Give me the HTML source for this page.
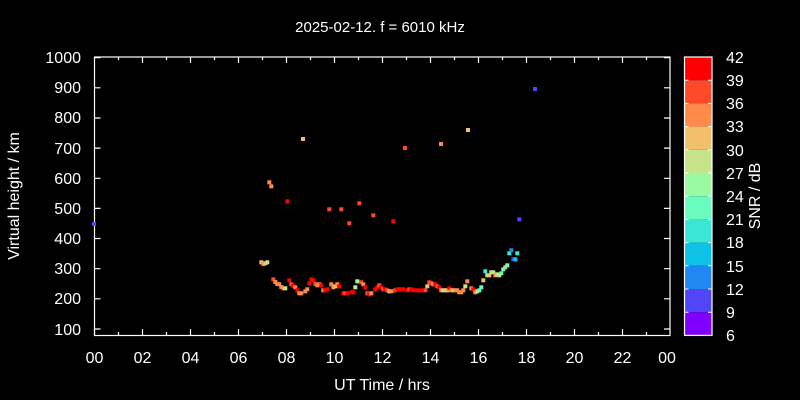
<!DOCTYPE html><html><head><meta charset="utf-8"><style>
body{margin:0;background:#000}
svg{display:block}
text{font-family:"Liberation Sans",sans-serif;fill:#fff}
</style></head><body>
<svg width="800" height="400" viewBox="0 0 800 400">
<rect width="800" height="400" fill="#000"/>
<text x="380" y="32" font-size="15" text-anchor="middle">2025-02-12. f = 6010 kHz</text>
<g stroke="#fff" stroke-width="1.2" fill="none">
<rect x="94.5" y="57" width="575.5" height="278.5"/>
<path d="M94.5 57.7h6M94.5 87.8h6M94.5 118h6M94.5 148.1h6M94.5 178.3h6M94.5 208.4h6M94.5 238.5h6M94.5 268.7h6M94.5 298.8h6M94.5 329h6
M670 57.7h-6M670 87.8h-6M670 118h-6M670 148.1h-6M670 178.3h-6M670 208.4h-6M670 238.5h-6M670 268.7h-6M670 298.8h-6M670 329h-6"/>
</g>
<g stroke="#fff" stroke-width="1.2">
<line x1="94.5" y1="335.5" x2="94.5" y2="329"/><line x1="118.5" y1="335.5" x2="118.5" y2="332"/><line x1="142.5" y1="335.5" x2="142.5" y2="329"/><line x1="166.5" y1="335.5" x2="166.5" y2="332"/><line x1="190.5" y1="335.5" x2="190.5" y2="329"/><line x1="214.5" y1="335.5" x2="214.5" y2="332"/><line x1="238.5" y1="335.5" x2="238.5" y2="329"/><line x1="262.5" y1="335.5" x2="262.5" y2="332"/><line x1="286.5" y1="335.5" x2="286.5" y2="329"/><line x1="310.5" y1="335.5" x2="310.5" y2="332"/><line x1="334.5" y1="335.5" x2="334.5" y2="329"/><line x1="358.5" y1="335.5" x2="358.5" y2="332"/><line x1="382.5" y1="335.5" x2="382.5" y2="329"/><line x1="406.5" y1="335.5" x2="406.5" y2="332"/><line x1="430.5" y1="335.5" x2="430.5" y2="329"/><line x1="454.5" y1="335.5" x2="454.5" y2="332"/><line x1="478.5" y1="335.5" x2="478.5" y2="329"/><line x1="502.5" y1="335.5" x2="502.5" y2="332"/><line x1="526.5" y1="335.5" x2="526.5" y2="329"/><line x1="550.5" y1="335.5" x2="550.5" y2="332"/><line x1="574.5" y1="335.5" x2="574.5" y2="329"/><line x1="598.5" y1="335.5" x2="598.5" y2="332"/><line x1="622.5" y1="335.5" x2="622.5" y2="329"/><line x1="646.5" y1="335.5" x2="646.5" y2="332"/>
<line x1="118.5" y1="57" x2="118.5" y2="60"/><line x1="142.5" y1="57" x2="142.5" y2="63"/><line x1="166.5" y1="57" x2="166.5" y2="60"/><line x1="190.5" y1="57" x2="190.5" y2="63"/><line x1="214.5" y1="57" x2="214.5" y2="60"/><line x1="238.5" y1="57" x2="238.5" y2="63"/><line x1="262.5" y1="57" x2="262.5" y2="60"/><line x1="286.5" y1="57" x2="286.5" y2="63"/><line x1="310.5" y1="57" x2="310.5" y2="60"/><line x1="334.5" y1="57" x2="334.5" y2="63"/><line x1="358.5" y1="57" x2="358.5" y2="60"/><line x1="382.5" y1="57" x2="382.5" y2="63"/><line x1="406.5" y1="57" x2="406.5" y2="60"/><line x1="430.5" y1="57" x2="430.5" y2="63"/><line x1="454.5" y1="57" x2="454.5" y2="60"/><line x1="478.5" y1="57" x2="478.5" y2="63"/><line x1="502.5" y1="57" x2="502.5" y2="60"/><line x1="526.5" y1="57" x2="526.5" y2="63"/><line x1="550.5" y1="57" x2="550.5" y2="60"/><line x1="574.5" y1="57" x2="574.5" y2="63"/><line x1="598.5" y1="57" x2="598.5" y2="60"/><line x1="622.5" y1="57" x2="622.5" y2="63"/><line x1="646.5" y1="57" x2="646.5" y2="60"/>
</g>
<g font-size="16" text-anchor="end">
<text x="81" y="63">1000</text><text x="81" y="93">900</text><text x="81" y="123">800</text><text x="81" y="154">700</text><text x="81" y="184">600</text><text x="81" y="214">500</text><text x="81" y="244">400</text><text x="81" y="274">300</text><text x="81" y="304">200</text><text x="81" y="335">100</text>
</g>
<g font-size="16" text-anchor="middle">
<text x="94.5" y="363">00</text><text x="142.5" y="363">02</text><text x="190.5" y="363">04</text><text x="238.5" y="363">06</text><text x="286.5" y="363">08</text><text x="334.5" y="363">10</text><text x="382.5" y="363">12</text><text x="430.5" y="363">14</text><text x="478.5" y="363">16</text><text x="526.5" y="363">18</text><text x="574.5" y="363">20</text><text x="622.5" y="363">22</text><text x="667" y="363">00</text>
<text x="382" y="390">UT Time / hrs</text>
<text transform="translate(19,196) rotate(-90)">Virtual height / km</text>
<text transform="translate(760,196) rotate(-90)">SNR / dB</text>
</g>
<g>
<rect x="684.5" y="57" width="27.5" height="23.2" fill="#ff0000"/>
<rect x="684.5" y="80.2" width="27.5" height="23.2" fill="#ff4a2a"/>
<rect x="684.5" y="103.4" width="27.5" height="23.2" fill="#ff8a4a"/>
<rect x="684.5" y="126.6" width="27.5" height="23.2" fill="#f2c06a"/>
<rect x="684.5" y="149.8" width="27.5" height="23.2" fill="#c6e48a"/>
<rect x="684.5" y="173" width="27.5" height="23.2" fill="#9afaa2"/>
<rect x="684.5" y="196.2" width="27.5" height="23.2" fill="#6afcbe"/>
<rect x="684.5" y="219.4" width="27.5" height="23.2" fill="#3ae6d6"/>
<rect x="684.5" y="242.6" width="27.5" height="23.2" fill="#0ec2e6"/>
<rect x="684.5" y="265.8" width="27.5" height="23.2" fill="#2088f0"/>
<rect x="684.5" y="289" width="27.5" height="23.2" fill="#5046f6"/>
<rect x="684.5" y="312.2" width="27.5" height="23.2" fill="#8000ff"/>
<rect x="684.5" y="57" width="27.5" height="278.4" fill="none" stroke="#fff" stroke-width="1.2"/>
<path stroke="#fff" stroke-width="1" d="M684.5 80.2h4M684.5 103.4h4M684.5 126.6h4M684.5 149.8h4M684.5 173h4M684.5 196.2h4M684.5 219.4h4M684.5 242.6h4M684.5 265.8h4M684.5 289h4M684.5 312.2h4M712 80.2h-4M712 103.4h-4M712 126.6h-4M712 149.8h-4M712 173h-4M712 196.2h-4M712 219.4h-4M712 242.6h-4M712 265.8h-4M712 289h-4M712 312.2h-4"/>
</g>
<g font-size="16">
<text x="726" y="63">42</text><text x="726" y="86">39</text><text x="726" y="109">36</text><text x="726" y="132">33</text><text x="726" y="156">30</text><text x="726" y="179">27</text><text x="726" y="202">24</text><text x="726" y="225">21</text><text x="726" y="248">18</text><text x="726" y="272">15</text><text x="726" y="295">12</text><text x="726" y="318">9</text><text x="726" y="341">6</text>
</g>
<g>
<rect x="92" y="222" width="4" height="4" fill="#5046f6"/>
<rect x="267.3" y="180.3" width="4" height="4" fill="#ff8a4a"/>
<rect x="269.3" y="184.3" width="4" height="4" fill="#ff8a4a"/>
<rect x="285.3" y="199.3" width="4" height="4" fill="#ff0000"/>
<rect x="301" y="137" width="4" height="4" fill="#f2c06a"/>
<rect x="327.3" y="207.3" width="4" height="4" fill="#ff4a2a"/>
<rect x="339.3" y="207.3" width="4" height="4" fill="#ff4a2a"/>
<rect x="357.3" y="201.3" width="4" height="4" fill="#ff4a2a"/>
<rect x="347.3" y="221.3" width="4" height="4" fill="#ff4a2a"/>
<rect x="371.3" y="213.3" width="4" height="4" fill="#ff4a2a"/>
<rect x="391.3" y="219.3" width="4" height="4" fill="#ff0000"/>
<rect x="403" y="146" width="4" height="4" fill="#ff4a2a"/>
<rect x="439" y="142" width="4" height="4" fill="#ff8a4a"/>
<rect x="466" y="128" width="4" height="4" fill="#f2c06a"/>
<rect x="533" y="87" width="4" height="4" fill="#5046f6"/>
<rect x="259.3" y="260.3" width="4" height="4" fill="#f2c06a"/>
<rect x="261.3" y="262" width="4" height="4" fill="#ff8a4a"/>
<rect x="263.3" y="261.3" width="4" height="4" fill="#f2c06a"/>
<rect x="265.3" y="260.3" width="4" height="4" fill="#c6e48a"/>
<rect x="271.3" y="277.3" width="4" height="4" fill="#ff4a2a"/>
<rect x="273.3" y="280" width="4" height="4" fill="#ff8a4a"/>
<rect x="275.3" y="282" width="4" height="4" fill="#ff8a4a"/>
<rect x="277.3" y="282.3" width="4" height="4" fill="#ff8a4a"/>
<rect x="279.3" y="285" width="4" height="4" fill="#ff8a4a"/>
<rect x="281.3" y="286.3" width="4" height="4" fill="#ff8a4a"/>
<rect x="283.3" y="286.3" width="4" height="4" fill="#c6e48a"/>
<rect x="287.3" y="278.3" width="4" height="4" fill="#ff0000"/>
<rect x="289.3" y="282.3" width="4" height="4" fill="#ff4a2a"/>
<rect x="291.3" y="284" width="4" height="4" fill="#ff0000"/>
<rect x="293.3" y="285.3" width="4" height="4" fill="#ff8a4a"/>
<rect x="295.3" y="288.3" width="4" height="4" fill="#ff0000"/>
<rect x="297.3" y="291.3" width="4" height="4" fill="#ff8a4a"/>
<rect x="299.3" y="291.3" width="4" height="4" fill="#ff8a4a"/>
<rect x="303.3" y="289.3" width="4" height="4" fill="#ff8a4a"/>
<rect x="305.3" y="287.3" width="4" height="4" fill="#ff8a4a"/>
<rect x="307.3" y="281.3" width="4" height="4" fill="#ff0000"/>
<rect x="309.3" y="277.3" width="4" height="4" fill="#ff0000"/>
<rect x="311.3" y="278.3" width="4" height="4" fill="#ff0000"/>
<rect x="313.3" y="282" width="4" height="4" fill="#ff4a2a"/>
<rect x="315.3" y="283.3" width="4" height="4" fill="#ff8a4a"/>
<rect x="317.3" y="282.3" width="4" height="4" fill="#ff8a4a"/>
<rect x="319.3" y="283.3" width="4" height="4" fill="#ff0000"/>
<rect x="321.3" y="288.3" width="4" height="4" fill="#ff8a4a"/>
<rect x="323.3" y="288.3" width="4" height="4" fill="#ff0000"/>
<rect x="325.3" y="287.3" width="4" height="4" fill="#ff0000"/>
<rect x="329.3" y="282.3" width="4" height="4" fill="#ff8a4a"/>
<rect x="331.3" y="285.3" width="4" height="4" fill="#ff8a4a"/>
<rect x="333.3" y="284.3" width="4" height="4" fill="#f2c06a"/>
<rect x="335.3" y="282.3" width="4" height="4" fill="#ff8a4a"/>
<rect x="337.3" y="284.3" width="4" height="4" fill="#ff0000"/>
<rect x="341.3" y="291.3" width="4" height="4" fill="#ff0000"/>
<rect x="343.3" y="291.3" width="4" height="4" fill="#ff4a2a"/>
<rect x="345.3" y="291.3" width="4" height="4" fill="#ff0000"/>
<rect x="349.3" y="290.3" width="4" height="4" fill="#ff0000"/>
<rect x="351.3" y="290.3" width="4" height="4" fill="#ff0000"/>
<rect x="353.3" y="285.3" width="4" height="4" fill="#c6e48a"/>
<rect x="355.3" y="279.3" width="4" height="4" fill="#9afaa2"/>
<rect x="359.3" y="280.3" width="4" height="4" fill="#ff4a2a"/>
<rect x="361.3" y="282.3" width="4" height="4" fill="#ff8a4a"/>
<rect x="363.3" y="285.3" width="4" height="4" fill="#ff0000"/>
<rect x="365.3" y="291.3" width="4" height="4" fill="#ff4a2a"/>
<rect x="367.3" y="292.3" width="4" height="4" fill="#ff0000"/>
<rect x="369.3" y="291.3" width="4" height="4" fill="#ff8a4a"/>
<rect x="373.3" y="287.3" width="4" height="4" fill="#ff0000"/>
<rect x="375.3" y="285.3" width="4" height="4" fill="#ff0000"/>
<rect x="377.3" y="283.3" width="4" height="4" fill="#ff4a2a"/>
<rect x="379.3" y="285.3" width="4" height="4" fill="#ff0000"/>
<rect x="381.3" y="287.3" width="4" height="4" fill="#ff4a2a"/>
<rect x="383.3" y="287.3" width="4" height="4" fill="#ff0000"/>
<rect x="385.3" y="288.3" width="4" height="4" fill="#ff4a2a"/>
<rect x="387.3" y="289.3" width="4" height="4" fill="#f2c06a"/>
<rect x="389.3" y="289.3" width="4" height="4" fill="#ff8a4a"/>
<rect x="393.3" y="288.3" width="4" height="4" fill="#ff4a2a"/>
<rect x="395.3" y="287.3" width="4" height="4" fill="#ff0000"/>
<rect x="397.3" y="287.3" width="4" height="4" fill="#ff0000"/>
<rect x="399.3" y="287.3" width="4" height="4" fill="#ff0000"/>
<rect x="401.3" y="287.3" width="4" height="4" fill="#ff0000"/>
<rect x="405.3" y="288.3" width="4" height="4" fill="#ff0000"/>
<rect x="407.3" y="287.3" width="4" height="4" fill="#ff4a2a"/>
<rect x="409.3" y="287.3" width="4" height="4" fill="#ff0000"/>
<rect x="411.3" y="288.3" width="4" height="4" fill="#ff0000"/>
<rect x="415" y="288.3" width="4" height="4" fill="#ff0000"/>
<rect x="419" y="288.3" width="4" height="4" fill="#ff0000"/>
<rect x="423.3" y="288.3" width="4" height="4" fill="#ff4a2a"/>
<rect x="425.3" y="284.3" width="4" height="4" fill="#f2c06a"/>
<rect x="427.3" y="280.3" width="4" height="4" fill="#ff4a2a"/>
<rect x="429.3" y="281.3" width="4" height="4" fill="#ff4a2a"/>
<rect x="431.3" y="282.3" width="4" height="4" fill="#ff8a4a"/>
<rect x="433.3" y="282.3" width="4" height="4" fill="#ff0000"/>
<rect x="435.3" y="284.3" width="4" height="4" fill="#ff4a2a"/>
<rect x="437.3" y="285.3" width="4" height="4" fill="#ff0000"/>
<rect x="439.3" y="288.3" width="4" height="4" fill="#ff8a4a"/>
<rect x="441.3" y="288.3" width="4" height="4" fill="#c6e48a"/>
<rect x="443.3" y="288.3" width="4" height="4" fill="#f2c06a"/>
<rect x="445.3" y="288.3" width="4" height="4" fill="#f2c06a"/>
<rect x="447.3" y="286.3" width="4" height="4" fill="#ff0000"/>
<rect x="449.3" y="288.3" width="4" height="4" fill="#ff8a4a"/>
<rect x="451.3" y="288.3" width="4" height="4" fill="#f2c06a"/>
<rect x="453.3" y="288.3" width="4" height="4" fill="#ff8a4a"/>
<rect x="455.3" y="288.3" width="4" height="4" fill="#ff8a4a"/>
<rect x="457.3" y="290.3" width="4" height="4" fill="#ff8a4a"/>
<rect x="459.3" y="290.3" width="4" height="4" fill="#ff8a4a"/>
<rect x="461.3" y="288.3" width="4" height="4" fill="#ff8a4a"/>
<rect x="463.3" y="284.3" width="4" height="4" fill="#c6e48a"/>
<rect x="465.3" y="279.3" width="4" height="4" fill="#ff8a4a"/>
<rect x="469.3" y="286.3" width="4" height="4" fill="#ff8a4a"/>
<rect x="471.3" y="287.3" width="4" height="4" fill="#ff0000"/>
<rect x="473.3" y="290.3" width="4" height="4" fill="#ff8a4a"/>
<rect x="475.3" y="289.3" width="4" height="4" fill="#c6e48a"/>
<rect x="477.3" y="288.3" width="4" height="4" fill="#6afcbe"/>
<rect x="479.3" y="285.3" width="4" height="4" fill="#6afcbe"/>
<rect x="481.3" y="278.3" width="4" height="4" fill="#f2c06a"/>
<rect x="483.3" y="269.3" width="4" height="4" fill="#3ae6d6"/>
<rect x="485.3" y="273.3" width="4" height="4" fill="#c6e48a"/>
<rect x="487.3" y="273.3" width="4" height="4" fill="#f2c06a"/>
<rect x="489.3" y="270.3" width="4" height="4" fill="#c6e48a"/>
<rect x="491.3" y="270.3" width="4" height="4" fill="#c6e48a"/>
<rect x="493.3" y="273.3" width="4" height="4" fill="#ff8a4a"/>
<rect x="495.3" y="272.3" width="4" height="4" fill="#c6e48a"/>
<rect x="497.3" y="273.3" width="4" height="4" fill="#c6e48a"/>
<rect x="499.3" y="271.3" width="4" height="4" fill="#6afcbe"/>
<rect x="501.3" y="267.3" width="4" height="4" fill="#6afcbe"/>
<rect x="503.3" y="265.3" width="4" height="4" fill="#f2c06a"/>
<rect x="505.3" y="263.3" width="4" height="4" fill="#6afcbe"/>
<rect x="507.3" y="251.3" width="4" height="4" fill="#3ae6d6"/>
<rect x="509.3" y="248.3" width="4" height="4" fill="#2088f0"/>
<rect x="511.3" y="257.3" width="4" height="4" fill="#5046f6"/>
<rect x="513.3" y="257.3" width="4" height="4" fill="#0ec2e6"/>
<rect x="515.3" y="251.3" width="4" height="4" fill="#3ae6d6"/>
<rect x="517.3" y="217.3" width="4" height="4" fill="#5046f6"/>
</g>
</svg>
</body></html>
